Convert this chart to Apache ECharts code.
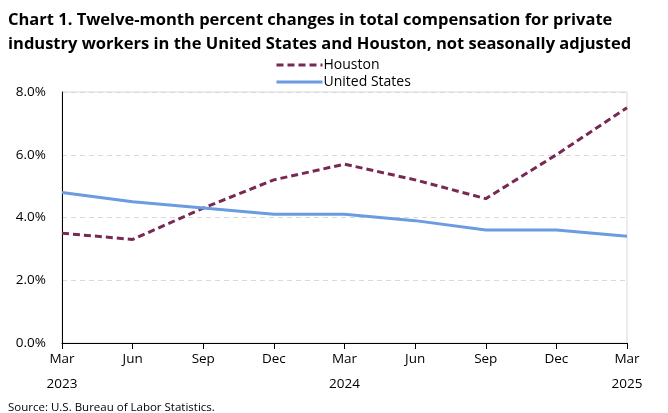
<!DOCTYPE html>
<html>
<head>
<meta charset="utf-8">
<script src="https://cdn.jsdelivr.net/npm/echarts@6/dist/echarts.min.js"></script>
<style>
    html, body { margin: 0; padding: 0; background: #fff; }
    #chart { width: 668px; height: 413px; }
</style>
</head>
<body>
<div id="chart"></div>
<script>
// quarters, Mar 2023 - Mar 2025
var categories = ['Mar\n2023', 'Jun', 'Sep', 'Dec', 'Mar\n2024', 'Jun', 'Sep', 'Dec', 'Mar\n2025'];
var houston = [3.5, 3.3, 4.3, 5.2, 5.7, 5.2, 4.6, 6.0, 7.5];
var unitedStates = [4.8, 4.5, 4.3, 4.1, 4.1, 3.9, 3.6, 3.6, 3.4];

var myChart = echarts.init(document.getElementById('chart'));

var font = '"Open Sans", sans-serif';

var option = {
    animation: false,
    textStyle: { fontFamily: font },
    title: [{
        text: 'Chart 1. Twelve-month percent changes in total compensation for private\nindustry workers in the United States and Houston, not seasonally adjusted',
        left: 3,
        top: 3,
        textStyle: {
            fontFamily: font,
            fontSize: 16.5,
            fontWeight: 'bold',
            color: '#000',
            lineHeight: 24
        }
    }, {
        text: 'Source: U.S. Bureau of Labor Statistics.',
        left: 3,
        top: 397,
        textStyle: {
            fontFamily: font,
            fontSize: 11.5,
            fontWeight: 'normal',
            color: '#000'
        }
    }],
    legend: {
        orient: 'vertical',
        left: 270,
        top: 53,
        itemWidth: 46,
        itemHeight: 10,
        itemGap: 3,
        itemStyle: { opacity: 0 },
        lineStyle: { width: 3 },
        textStyle: { fontFamily: font, fontSize: 14, color: '#000', padding: [0, 0, 0, -4] },
        data: ['Houston', 'United States']
    },
    grid: {
        left: 62,
        right: 41,
        top: 92,
        bottom: 70,
        show: true,
        borderColor: '#d9d9d9',
        borderWidth: 1
    },
    xAxis: {
        type: 'category',
        boundaryGap: false,
        data: categories,
        axisLine: { lineStyle: { color: '#000', width: 1 } },
        axisTick: { length: 6, lineStyle: { color: '#000' } },
        axisLabel: {
            fontFamily: font,
            fontSize: 13.5,
            color: '#000',
            lineHeight: 25,
            margin: 4
        }
    },
    yAxis: {
        type: 'value',
        min: 0,
        max: 8,
        interval: 2,
        axisLine: { show: true, lineStyle: { color: '#000', width: 1 } },
        axisTick: { show: false },
        axisLabel: {
            fontFamily: font,
            fontSize: 13.5,
            color: '#000',
            margin: 16,
            formatter: function (v) { return v.toFixed(1) + '%'; }
        },
        splitLine: { lineStyle: { color: '#d9d9d9', type: [5, 4] } }
    },
    series: [{
        name: 'Houston',
        type: 'line',
        data: houston,
        symbol: 'none',
        itemStyle: { color: '#772953' },
        lineStyle: { color: '#772953', width: 3, type: [7, 4] }
    }, {
        name: 'United States',
        type: 'line',
        data: unitedStates,
        symbol: 'none',
        itemStyle: { color: '#6b9be0' },
        lineStyle: { color: '#6b9be0', width: 3 }
    }]
};

myChart.setOption(option);
</script>
</body>
</html>
